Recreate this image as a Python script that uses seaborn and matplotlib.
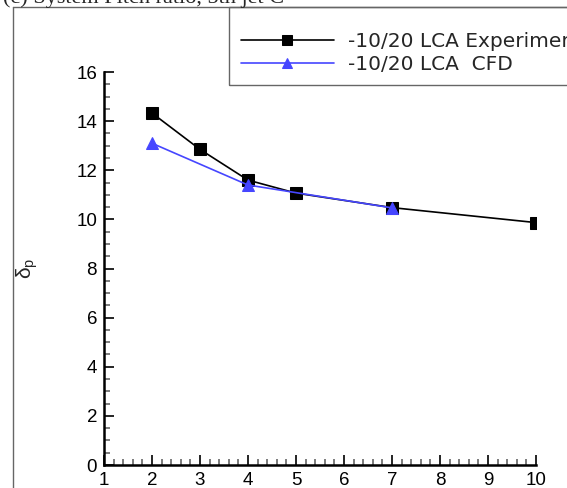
import matplotlib
matplotlib.use("Agg")
import matplotlib.pyplot as plt
from matplotlib.lines import Line2D
from matplotlib.patches import Rectangle
from matplotlib.ticker import MultipleLocator
import seaborn as sns

# donnees
x_exp = [2, 3, 4, 5, 7, 10]
y_exp = [14.33, 12.85, 11.6, 11.07, 10.48, 9.87]
x_cfd = [2, 4, 7]
y_cfd = [13.1, 11.4, 10.47]
label_exp = "-10/20 LCA Experiment"
label_cfd = "-10/20 LCA  CFD"
titre = "(c) System Pitch ratio, 5th jet C"

sns.set_theme(style="ticks")
plt.rcParams["font.family"] = ["Liberation Sans", "DejaVu Sans"]
plt.rcParams["mathtext.fontset"] = "dejavusans"

fig = plt.figure(figsize=(5.67, 4.88), dpi=100)
ax = fig.add_axes([0.1834, 0.0471, 0.7619, 0.8053])

sns.lineplot(x=x_exp, y=y_exp, ax=ax, color="black", marker="s", markersize=8.5,
             markeredgecolor="black", linewidth=1.2, label=label_exp)
sns.lineplot(x=x_cfd, y=y_cfd, ax=ax, color="#4646ff", marker="^", markersize=9,
             markeredgecolor="#4646ff", linewidth=1.2, label=label_cfd)

ax.set_xlim(1, 10)
ax.set_ylim(0, 16)
ax.xaxis.set_major_locator(MultipleLocator(1))
ax.xaxis.set_minor_locator(MultipleLocator(0.2))
ax.yaxis.set_major_locator(MultipleLocator(2))
ax.yaxis.set_minor_locator(MultipleLocator(0.5))
ax.tick_params(which="both", direction="in", colors="black", labelsize=13.5, width=1.2)
ax.tick_params(which="major", length=7, pad=5)
ax.tick_params(which="minor", length=4, color="#666666")
ax.spines["top"].set_visible(False)
ax.spines["right"].set_visible(False)
for s in ["left", "bottom"]:
    ax.spines[s].set_linewidth(1.8)
    ax.spines[s].set_color("black")
ax.set_xlabel("")
ax.set_ylabel(r"$\mathregular{\delta_p}$", fontsize=15, rotation=90)
ax.yaxis.set_label_coords(-0.148, 0.5)
ax.patch.set_alpha(0)

# cadre exterieur et boite de legende
fig.add_artist(Line2D([13 / 567, 13 / 567], [0, 1 - 7 / 488], transform=fig.transFigure,
                      color="#666666", linewidth=1))
fig.add_artist(Line2D([13 / 567, 1], [1 - 7 / 488, 1 - 7 / 488], transform=fig.transFigure,
                      color="#666666", linewidth=1))
fig.add_artist(Rectangle((229 / 567, 1 - 85 / 488), 0.7, 78 / 488, transform=fig.transFigure,
                         fill=False, edgecolor="#666666", linewidth=1))

ax.legend(loc="upper left", bbox_to_anchor=(241 / 567, 1 - 32 / 488),
          bbox_transform=fig.transFigure, frameon=False,
          prop={"family": "DejaVu Sans", "size": 14.5},
          handlelength=4.6, handletextpad=0.7, labelspacing=0.2, borderpad=0,
          borderaxespad=0, markerscale=0.85)

fig.text(0.005, 1 - 3 / 488, titre, family="Liberation Serif", fontsize=16, va="baseline")

fig.savefig("out.png", dpi=100)
